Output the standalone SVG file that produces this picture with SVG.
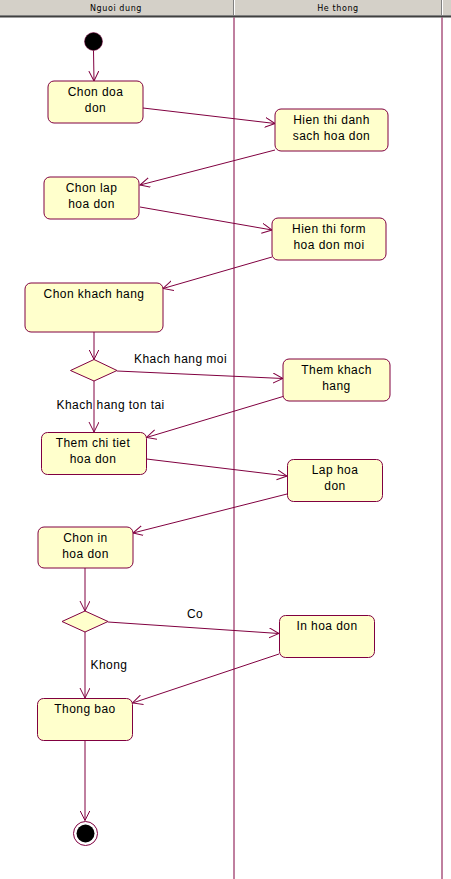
<svg xmlns="http://www.w3.org/2000/svg" width="451" height="879" viewBox="0 0 451 879">
<style>
.node rect{fill:#ffffcc;stroke:#800040;stroke-width:1}
.dec{fill:#ffffcc;stroke:#800040;stroke-width:1}
.t{font-family:"Liberation Sans",Arial,sans-serif;font-size:12px;letter-spacing:0.45px;fill:#000;text-anchor:middle}
.lbl{font-family:"Liberation Sans",Arial,sans-serif;font-size:12px;letter-spacing:0.45px;fill:#000}
.hdr{font-family:"DejaVu Sans",Verdana,sans-serif;font-size:8px;letter-spacing:0.6px;fill:#000;text-anchor:middle}
.lane{stroke:#800040;stroke-width:1;fill:none}
#connectors line{stroke:#800040;stroke-width:1;fill:none;marker-end:url(#arr)}
</style>
<defs>
<marker id="arr" viewBox="0 0 11 11" refX="10" refY="5" markerWidth="11" markerHeight="11" markerUnits="userSpaceOnUse" orient="auto">
<path d="M0,0 L10,5 L0,10" fill="none" stroke="#800040" stroke-width="1"/>
</marker>
</defs>
<rect x="0" y="0" width="451" height="879" fill="#ffffff"/>
<g id="header">
<rect x="0" y="0" width="451" height="15" fill="#d4d0c8"/>
<rect x="0" y="15" width="451" height="1" fill="#808080"/>
<rect x="0" y="16" width="451" height="1.5" fill="#404040"/>
<rect x="233" y="0" width="1" height="15" fill="#808080"/>
<rect x="234" y="0" width="1" height="15" fill="#ffffff"/>
<rect x="441" y="0" width="1" height="15" fill="#808080"/>
<rect x="442" y="0" width="1" height="15" fill="#ffffff"/>
<text class="hdr" x="116" y="10.5">Nguoi dung</text>
<text class="hdr" x="338" y="10.5">He thong</text>
</g>
<g id="lanes">
<line class="lane" x1="234" y1="17.5" x2="234" y2="879"/>
<line class="lane" x1="442" y1="17.5" x2="442" y2="879"/>
</g>
<g id="connectors">
<line x1="93.5" y1="50.5" x2="94" y2="81"/>
<line x1="143" y1="108" x2="275" y2="123.5"/>
<line x1="275" y1="150" x2="140" y2="185"/>
<line x1="140" y1="207" x2="272" y2="230"/>
<line x1="272" y1="257" x2="163" y2="288.5"/>
<line x1="94" y1="332" x2="94" y2="359.5"/>
<line x1="117" y1="371" x2="283" y2="378.5"/>
<line x1="94" y1="381" x2="94" y2="432"/>
<line x1="283" y1="396.5" x2="146.5" y2="437.5"/>
<line x1="146.5" y1="459" x2="287" y2="476"/>
<line x1="287" y1="494" x2="133" y2="533"/>
<line x1="85" y1="568" x2="85" y2="611"/>
<line x1="108" y1="622" x2="279" y2="633.5"/>
<line x1="85" y1="632" x2="85" y2="698"/>
<line x1="279" y1="654" x2="132.5" y2="703"/>
<line x1="85" y1="740" x2="85" y2="820.5"/>
<text class="lbl" x="134" y="363">Khach hang moi</text>
<text class="lbl" x="56.5" y="409">Khach hang ton tai</text>
<text class="lbl" x="187" y="618">Co</text>
<text class="lbl" x="90.5" y="669">Khong</text>
</g>
<g id="start"><circle cx="93.5" cy="41.5" r="9" fill="#000000" stroke="#800040" stroke-width="0.5"/></g>
<g id="n1" class="node"><rect x="48" y="81" width="95" height="42" rx="6"/><text class="t" x="95.5" y="96">Chon doa</text><text class="t" x="95.5" y="112">don</text></g>
<g id="n2" class="node"><rect x="275" y="109" width="113" height="42" rx="6"/><text class="t" x="331.5" y="124">Hien thi danh</text><text class="t" x="331.5" y="140">sach hoa don</text></g>
<g id="n3" class="node"><rect x="44" y="177" width="95" height="42" rx="6"/><text class="t" x="91.5" y="192">Chon lap</text><text class="t" x="91.5" y="208">hoa don</text></g>
<g id="n4" class="node"><rect x="272" y="218" width="114" height="42" rx="6"/><text class="t" x="329" y="233">Hien thi form</text><text class="t" x="329" y="249">hoa don moi</text></g>
<g id="n5" class="node"><rect x="25" y="283" width="138" height="49" rx="6"/><text class="t" x="94" y="298">Chon khach hang</text></g>
<g id="d1"><polygon class="dec" points="94,359.5 117,370.5 94,381 70.5,370.5"/></g>
<g id="n6" class="node"><rect x="283" y="359" width="107" height="42" rx="6"/><text class="t" x="336.5" y="374">Them khach</text><text class="t" x="336.5" y="390">hang</text></g>
<g id="n7" class="node"><rect x="41.5" y="432.5" width="105" height="42" rx="6"/><text class="t" x="93" y="447">Them chi tiet</text><text class="t" x="93" y="463">hoa don</text></g>
<g id="n8" class="node"><rect x="287.5" y="459.5" width="95" height="42" rx="6"/><text class="t" x="335" y="474">Lap hoa</text><text class="t" x="335" y="490">don</text></g>
<g id="n9" class="node"><rect x="38" y="527" width="95" height="41" rx="6"/><text class="t" x="85.5" y="542">Chon in</text><text class="t" x="85.5" y="558">hoa don</text></g>
<g id="d2"><polygon class="dec" points="85,611 108,621.5 85,632 62,621.5"/></g>
<g id="n10" class="node"><rect x="279.5" y="615.5" width="95" height="42" rx="6"/><text class="t" x="327" y="630">In hoa don</text></g>
<g id="n11" class="node"><rect x="37.5" y="698.5" width="95" height="42" rx="6"/><text class="t" x="85" y="713">Thong bao</text></g>
<g id="end"><circle cx="85.5" cy="833.5" r="12" fill="#ffffff" stroke="#800040" stroke-width="1"/><circle cx="85.5" cy="833.5" r="9" fill="#000000"/></g>
</svg>
